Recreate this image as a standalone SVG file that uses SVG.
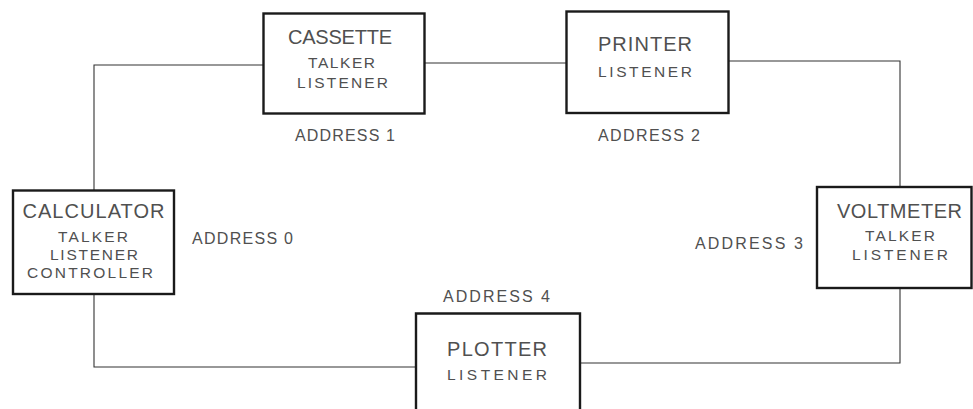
<svg xmlns="http://www.w3.org/2000/svg" width="973" height="409" viewBox="0 0 973 409">
<style>
.box{fill:#fff;stroke:#1a1a1a;stroke-width:2.4}
.wire{fill:none;stroke:#333;stroke-width:1.1}
text{font-family:"Liberation Sans",Arial,sans-serif;fill:#505050}
.t{font-size:20px}
.s{font-size:15.5px}
.a{font-size:16px}
</style>
<rect width="973" height="409" fill="#fff"/>
<g id="connectors">
<path class="wire" d="M263,65 H94 V190"/>
<path class="wire" d="M425,63 H566.5"/>
<path class="wire" d="M728.5,61 H900 V187"/>
<path class="wire" d="M900,288 V363 H580"/>
<path class="wire" d="M416,367 H94 V294"/>
</g>
<g id="cassette">
<rect class="box" x="263.5" y="13.5" width="161" height="100"/>
<text class="t" x="288" y="44" textLength="104" lengthAdjust="spacing">CASSETTE</text>
<text class="s" x="308" y="68" textLength="67" lengthAdjust="spacing">TALKER</text>
<text class="s" x="297" y="88" textLength="91" lengthAdjust="spacing">LISTENER</text>
<text class="a" x="295" y="141" textLength="100" lengthAdjust="spacing">ADDRESS 1</text>
</g>
<g id="printer">
<rect class="box" x="566.5" y="11.5" width="162" height="101.5"/>
<text class="t" x="598" y="51" textLength="94" lengthAdjust="spacing">PRINTER</text>
<text class="s" x="598" y="77" textLength="94" lengthAdjust="spacing">LISTENER</text>
<text class="a" x="598" y="141" textLength="102" lengthAdjust="spacing">ADDRESS 2</text>
</g>
<g id="calculator">
<rect class="box" x="13" y="190.5" width="161" height="103.5"/>
<text class="t" x="22.5" y="218" textLength="142" lengthAdjust="spacing">CALCULATOR</text>
<text class="s" x="58" y="242" textLength="70" lengthAdjust="spacing">TALKER</text>
<text class="s" x="50" y="260" textLength="88" lengthAdjust="spacing">LISTENER</text>
<text class="s" x="27" y="278" textLength="126" lengthAdjust="spacing">CONTROLLER</text>
<text class="a" x="192" y="244" textLength="101" lengthAdjust="spacing">ADDRESS 0</text>
</g>
<g id="voltmeter">
<rect class="box" x="817" y="187" width="154.5" height="101"/>
<text class="t" x="837" y="218" textLength="125" lengthAdjust="spacing">VOLTMETER</text>
<text class="s" x="865" y="241" textLength="70" lengthAdjust="spacing">TALKER</text>
<text class="s" x="852" y="260" textLength="96" lengthAdjust="spacing">LISTENER</text>
<text class="a" x="695" y="249" textLength="108" lengthAdjust="spacing">ADDRESS 3</text>
</g>
<g id="plotter">
<path class="box" d="M416,420 V313.5 H580 V420"/>
<text class="t" x="447" y="356" textLength="100" lengthAdjust="spacing">PLOTTER</text>
<text class="s" x="447" y="380" textLength="100" lengthAdjust="spacing">LISTENER</text>
<text class="a" x="443" y="302" textLength="107" lengthAdjust="spacing">ADDRESS 4</text>
</g>
</svg>
